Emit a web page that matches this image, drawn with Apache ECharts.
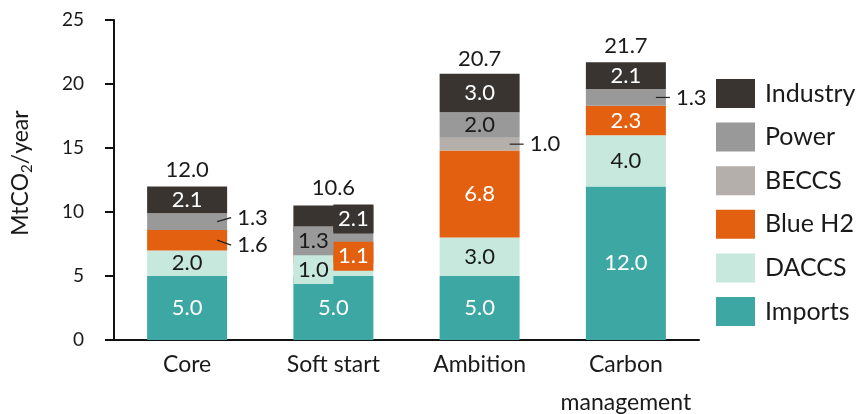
<!DOCTYPE html>
<html>
<head>
<meta charset="utf-8">
<script src="https://cdn.jsdelivr.net/npm/echarts@6/dist/echarts.min.js"></script>
<style>
  html, body { margin: 0; padding: 0; background: #fff; }
  #chart { width: 861px; height: 414px; }
</style>
</head>
<body>
<div id="chart"></div>
<script>
// Scenarios on the x axis
const categories = ['Core', 'Soft start', 'Ambition', 'Carbon\nmanagement'];

// Captured CO2 by source, MtCO2/year (null = not present in the scenario)
const imports  = [5.0, 5.0, 5.0, 12.0];
const daccs    = [2.0, 1.0, 3.0, 4.0];
const blueH2   = [1.6, 1.1, 6.8, 2.3];
const beccs    = [null, null, 1.0, null];
const power    = [1.3, 1.3, 2.0, 1.3];
const industry = [2.1, 2.1, 3.0, 2.1];

// Scenario totals printed above each bar
const totals = [12.0, 10.6, 20.7, 21.7];

// Value axis ticks
const yTicks = [0, 5, 10, 15, 20, 25];

const FONT = 'Lato';
const TEXT = '#1a1a1a';
const BAR_WIDTH = 80;

// Stack order, bottom to top
const stackDefs = [
  { name: 'Imports',  values: imports,  color: '#3ca7a3', labelColor: '#ffffff' },
  { name: 'DACCS',    values: daccs,    color: '#c7e8dc', labelColor: TEXT },
  { name: 'Blue H2',  values: blueH2,   color: '#e2600f', labelColor: '#ffffff' },
  { name: 'BECCS',    values: beccs,    color: '#b5afac', labelColor: TEXT },
  { name: 'Power',    values: power,    color: '#999999', labelColor: TEXT },
  { name: 'Industry', values: industry, color: '#3a3431', labelColor: '#ffffff' }
];

// Labels on crowded bars: filled boxes nudged left/right of the bar centre
const boxedLabels = [
  { series: 'DACCS',    index: 1, dx: -20 },
  { series: 'Blue H2',  index: 1, dx: 20 },
  { series: 'Power',    index: 1, dx: -20 },
  { series: 'Industry', index: 1, dx: 20 }
];

// Labels of thin segments placed to the right of the bar with a leader line
const calloutLabels = [
  { series: 'Power',   index: 0, dy: -4 },
  { series: 'Blue H2', index: 0, dy: 5 },
  { series: 'BECCS',   index: 2, dy: 0 },
  { series: 'Power',   index: 3, dy: 0 }
];

function fmt(v) { return Number(v).toFixed(1); }

function segmentCentre(seriesName, index) {
  let base = 0;
  for (const def of stackDefs) {
    const v = def.values[index] || 0;
    if (def.name === seriesName) return base + v / 2;
    base += v;
  }
  return base;
}

const barSeries = stackDefs.map(def => ({
  name: def.name,
  type: 'bar',
  stack: 'total',
  barWidth: BAR_WIDTH,
  itemStyle: { color: def.color },
  label: {
    show: true,
    position: 'inside',
    formatter: p => fmt(p.value),
    color: def.labelColor,
    fontFamily: FONT,
    fontSize: 22
  },
  data: def.values.map((v, i) => {
    if (v == null) return null;
    const item = { value: v };
    const boxed = boxedLabels.find(b => b.series === def.name && b.index === i);
    const callout = calloutLabels.find(c => c.series === def.name && c.index === i);
    if (boxed) {
      item.label = {
        backgroundColor: def.color,
        width: 40,
        height: 29,
        lineHeight: 29,
        align: 'center',
        verticalAlign: 'middle',
        offset: [boxed.dx, 0]
      };
    } else if (callout) {
      item.label = {
        position: 'right',
        distance: 10,
        offset: [0, callout.dy],
        color: TEXT
      };
    }
    return item;
  })
}));

// Leader lines for the callout labels
const leaderSeries = {
  name: 'leaders',
  type: 'custom',
  silent: true,
  z: 5,
  data: calloutLabels.map(c => [c.index, segmentCentre(c.series, c.index), c.dy]),
  renderItem: (params, api) => {
    const p = api.coord([api.value(0), api.value(1)]);
    const edge = p[0] + BAR_WIDTH / 2;
    return {
      type: 'line',
      shape: { x1: edge - 10, y1: p[1], x2: edge + 4, y2: p[1] + api.value(2) },
      style: { stroke: '#222', lineWidth: 1.2 }
    };
  }
};

// Totals written above each bar
const totalSeries = {
  name: 'Total',
  type: 'scatter',
  symbolSize: 0,
  silent: true,
  itemStyle: { opacity: 1 },
  data: totals,
  label: {
    show: true,
    position: 'top',
    distance: 5,
    formatter: p => fmt(p.value),
    color: TEXT,
    opacity: 1,
    fontFamily: FONT,
    fontSize: 22
  }
};

const chart = echarts.init(document.getElementById('chart'), null, { renderer: 'canvas' });

chart.setOption({
  animation: false,
  backgroundColor: '#ffffff',
  textStyle: { fontFamily: FONT },
  grid: { left: 114, right: 162, top: 20, bottom: 74, containLabel: false, outerBoundsMode: 'none' },
  legend: {
    orient: 'vertical',
    left: 716,
    top: 79,
    padding: 0,
    itemWidth: 39,
    itemHeight: 29,
    itemGap: 14.6,
    icon: 'rect',
    selectedMode: false,
    data: stackDefs.map(d => d.name).reverse(),
    textStyle: { color: TEXT, fontFamily: FONT, fontSize: 25, padding: [0, 0, 0, 5] }
  },
  xAxis: {
    type: 'category',
    data: categories,
    axisLine: { lineStyle: { color: '#111', width: 2 } },
    axisTick: { show: false },
    axisLabel: {
      color: TEXT,
      fontFamily: FONT,
      fontSize: 23,
      lineHeight: 38,
      margin: 6,
      interval: 0
    }
  },
  yAxis: {
    type: 'value',
    min: yTicks[0],
    max: yTicks[yTicks.length - 1],
    interval: yTicks[1] - yTicks[0],
    splitLine: { show: false },
    axisLine: { show: true, lineStyle: { color: '#111', width: 2 } },
    axisTick: { show: true, length: 9, lineStyle: { color: '#111', width: 2 } },
    axisLabel: { color: TEXT, fontFamily: FONT, fontSize: 19, margin: 30 }
  },
  graphic: [{
    type: 'text',
    x: 21,
    y: 173,
    rotation: Math.PI / 2,
    style: {
      text: '{a|MtCO}{s|2}{a|/year}',
      align: 'center',
      verticalAlign: 'middle',
      fill: TEXT,
      rich: {
        a: { fontFamily: FONT, fontSize: 23, lineHeight: 28, fill: TEXT },
        s: { fontFamily: FONT, fontSize: 15, lineHeight: 15, verticalAlign: 'bottom', fill: TEXT }
      }
    }
  }],
  series: [...barSeries, leaderSeries, totalSeries]
});
</script>
</body>
</html>
